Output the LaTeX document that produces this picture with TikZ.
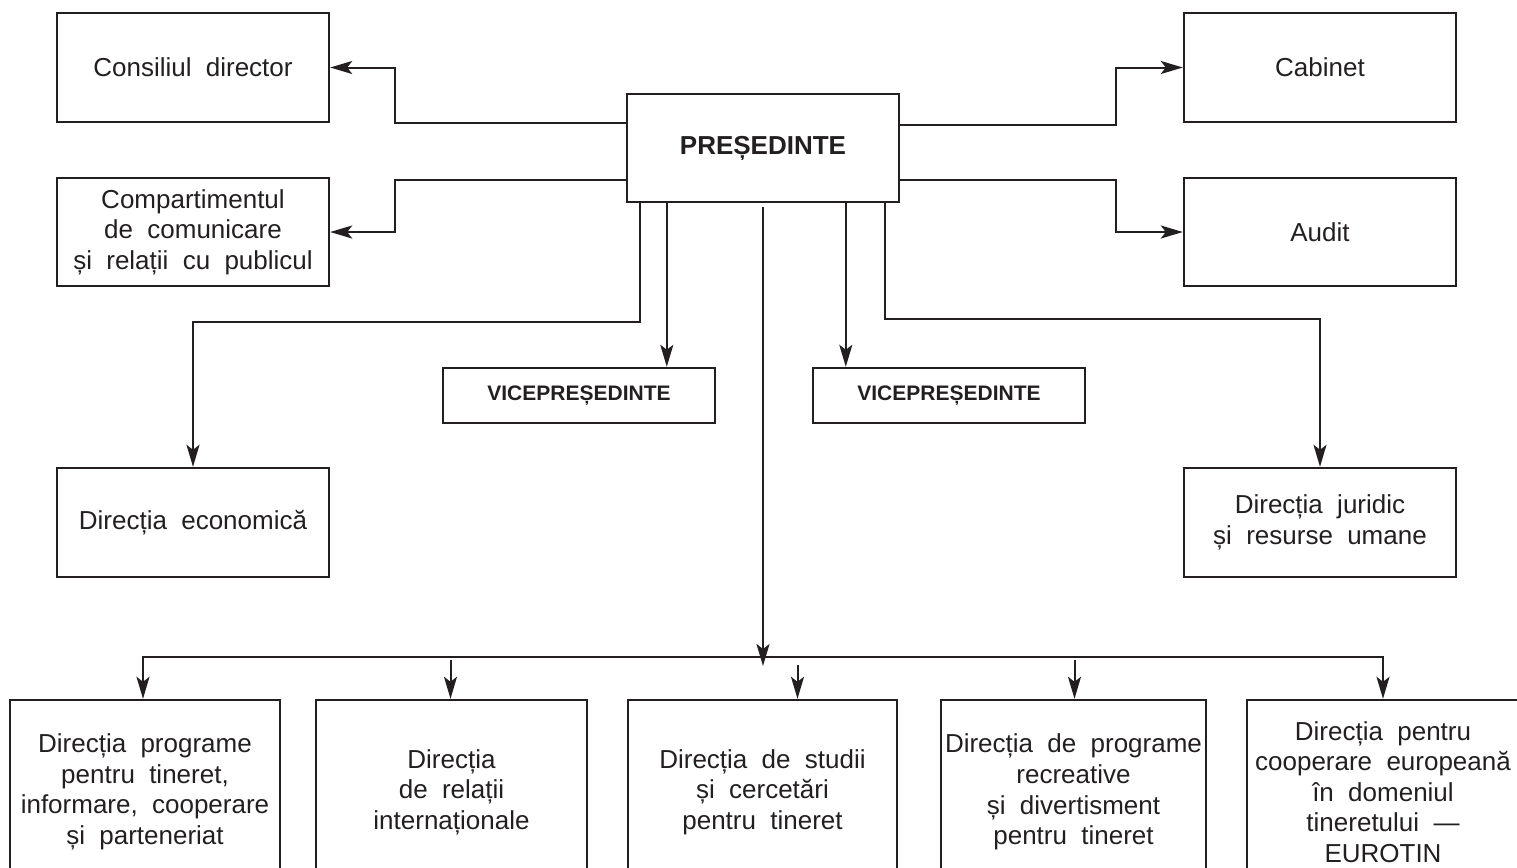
\documentclass[tikz,border=0pt]{standalone}
\usepackage{fontspec}
\setmainfont{Liberation Sans}
\usetikzlibrary{arrows.meta,calc}
\definecolor{ink}{HTML}{231F20}
\newcommand\myboxfont{\fontsize{13}{15.3}\selectfont\spaceskip=0.55em\relax}
\newcommand\myboldfont{\fontsize{13}{15.3}\selectfont\bfseries}
\newcommand\myvbfont{\fontsize{10.5}{13}\selectfont\bfseries}
\begin{document}
\begin{tikzpicture}[x=0.5pt,y=-0.5pt,
  box/.style={draw=ink, line width=1.2pt, align=center, inner sep=0pt, text=ink, font=\myboxfont},
  bold/.style={font=\myboldfont},
  vbold/.style={font=\myvbfont},
  bw/.style={minimum width=#1*0.5pt},
  bh/.style={minimum height=#1*0.5pt},
  line/.style={draw=ink, line width=1pt},
  arr/.style={line, -{Stealth[length=11pt,width=6.5pt,inset=2.5pt]}}]
\useasboundingbox (0,0) rectangle (1517,868);
\clip (0,0) rectangle (1517,868);
% boxes
\node[box,bw=272,bh=109] (cons) at (193,67.5) {Consiliul director};
\node[box,bw=272,bh=108] (comp) at (193,232) {Compartimentul\\de comunicare\\și relații cu publicul};
\node[box,bold,bw=272,bh=108] (pres) at (763,148) {PREȘEDINTE};
\node[box,bw=272,bh=109] (cab) at (1320,67.5) {Cabinet};
\node[box,bw=272,bh=108] (aud) at (1320,232) {Audit};
\node[box,vbold,bw=272,bh=55] (vp1) at (579,395.5) {VICEPREȘEDINTE};
\node[box,vbold,bw=272,bh=55] (vp2) at (949,395.5) {VICEPREȘEDINTE};
\node[box,bw=272,bh=109] (econ) at (193,522.5) {Direcția economică};
\node[box,bw=272,bh=109] (jur) at (1320,522.5) {Direcția juridic\\și resurse umane};
\node[box,bw=270,bh=184] (b1) at (145,792) {Direcția programe\\pentru tineret,\\informare, cooperare\\și parteneriat};
\node[box,bw=271,bh=184] (b2) at (451.5,792) {Direcția\\de relații\\internaționale};
\node[box,bw=269,bh=184] (b3) at (762.5,792) {Direcția de studii\\și cercetări\\pentru tineret};
\node[box,bw=265,bh=184] (b4) at (1073.5,792) {Direcția de programe\\recreative\\și divertisment\\pentru tineret};
\node[box,bw=272,bh=184] (b5) at (1383,792) {Direcția pentru\\cooperare europeană\\în domeniul\\tineretului —\\EUROTIN};
% side connectors
\draw[arr] ($(pres.north west)+(0,30)$) -- ++(-231,0) |- (cons.east);
\draw[arr] ($(pres.south west)+(0,-23)$) -- ++(-231,0) |- (comp.east);
\draw[arr] ($(pres.north east)+(0,32)$) -- ++(216,0) |- (cab.west);
\draw[arr] ($(pres.south east)+(0,-23)$) -- ++(216,0) |- (aud.west);
% downward connectors
\draw[arr] ($(pres.south west)+(14,0)$) -- ++(0,119) -| (econ.north);
\draw[arr] ($(pres.south west)+(41,0)$) coordinate (p1) -- (p1 |- vp1.north);
\draw[arr] ($(pres.south west)+(220,0)$) coordinate (p2) -- (p2 |- vp2.north);
\draw[arr] ($(pres.south east)+(-15,0)$) -- ++(0,116) -| (jur.north);
% trunk and bus
\coordinate (hub) at (763,657);
\draw[arr] ($(pres.south)+(0,4)$) -- ($(hub)+(0,9)$);
\draw[arr] (hub) -| ($(b1.north)+(-2,0)$);
\draw[arr] (hub) -| (b5.north);
\draw[arr] ($(b2.north |- hub)+(-1,3)$) -- ($(b2.north)+(-1,0)$);
\draw[arr] ($(b3.north |- hub)+(35,8)$) -- ($(b3.north)+(35,0)$);
\draw[arr] ($(b4.north |- hub)+(1,3)$) -- ($(b4.north)+(1,0)$);
\end{tikzpicture}
\end{document}
